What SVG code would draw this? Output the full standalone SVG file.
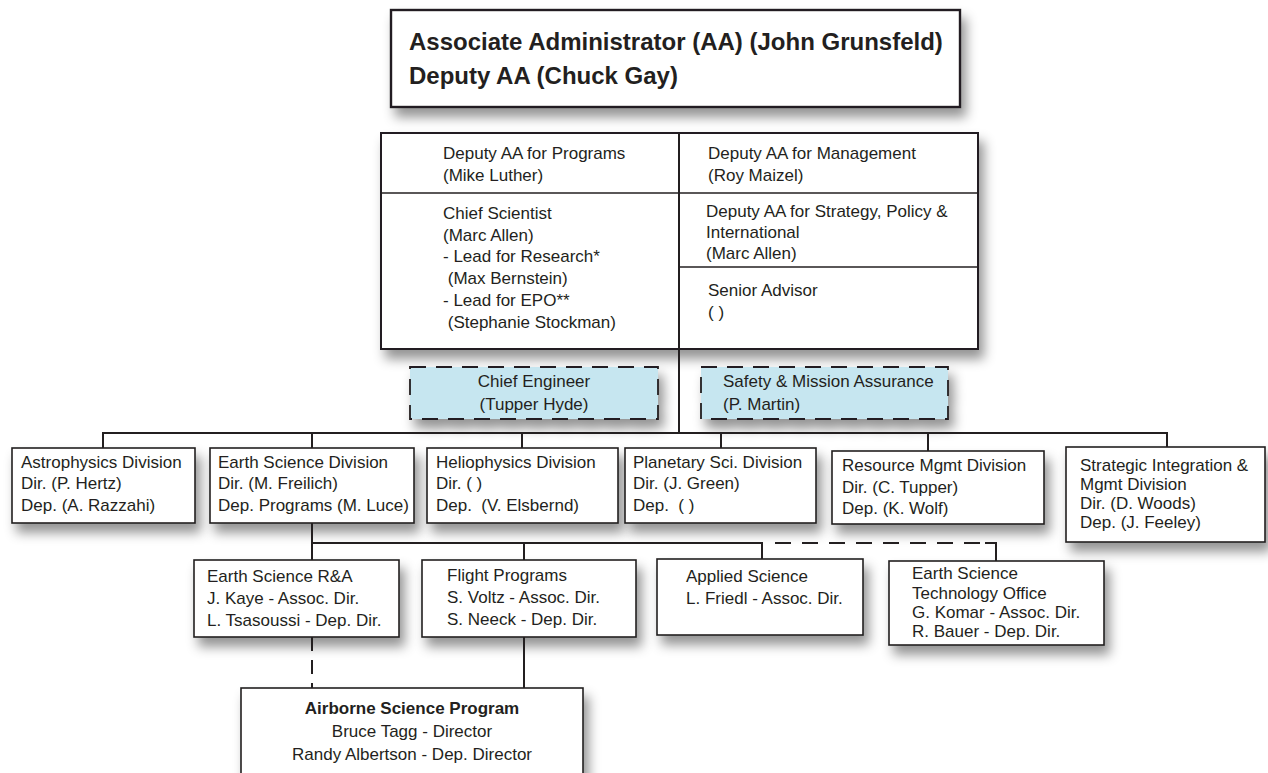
<svg xmlns="http://www.w3.org/2000/svg" width="1268" height="773" viewBox="0 0 1268 773">
<defs>
<filter id="sh" x="-15%" y="-20%" width="140%" height="170%">
<feDropShadow dx="5" dy="9" stdDeviation="6" flood-color="#000" flood-opacity="0.42"/>
</filter>
</defs>
<style>
.box{fill:#fff;stroke:#231f20;stroke-width:1.6}
.blue{fill:#c6e6f0;stroke:#231f20;stroke-width:1.8;stroke-dasharray:16 10}
.ln{fill:none;stroke:#231f20;stroke-width:2}
.dash{fill:none;stroke:#231f20;stroke-width:2;stroke-dasharray:16 11}
.t{font-family:"Liberation Sans",Arial,sans-serif;font-size:17px;fill:#231f20;white-space:pre}
.title{font-family:"Liberation Sans",Arial,sans-serif;font-size:24px;font-weight:bold;fill:#231f20}
.b{font-weight:bold}
.c{text-anchor:middle}
</style>
<rect width="1268" height="773" fill="#fff"/>

<g id="aa">
<rect class="box" x="391" y="10" width="569" height="97" style="stroke-width:2.4" filter="url(#sh)"/>
<text class="title" x="409" y="50">Associate Administrator (AA) (John Grunsfeld)</text>
<text class="title" x="409" y="84">Deputy AA (Chuck Gay)</text>
</g>

<g id="staff">
<rect class="box" x="381" y="133" width="597" height="216" style="stroke-width:2" filter="url(#sh)"/>
<line class="ln" x1="679" y1="133" x2="679" y2="349"/>
<line class="ln" x1="381" y1="193" x2="978" y2="193" style="stroke-width:1.6"/>
<line class="ln" x1="679" y1="267" x2="978" y2="267" style="stroke-width:1.6"/>
<text class="t" x="443" y="159">Deputy AA for Programs</text>
<text class="t" x="443" y="181">(Mike Luther)</text>
<text class="t" x="443" y="219">Chief Scientist</text>
<text class="t" x="443" y="241">(Marc Allen)</text>
<text class="t" x="443" y="262">- Lead for Research*</text>
<text class="t" x="443" y="284"> (Max Bernstein)</text>
<text class="t" x="443" y="306">- Lead for EPO**</text>
<text class="t" x="443" y="328"> (Stephanie Stockman)</text>
<text class="t" x="708" y="159">Deputy AA for Management</text>
<text class="t" x="708" y="181">(Roy Maizel)</text>
<text class="t" x="706" y="217">Deputy AA for Strategy, Policy &amp;</text>
<text class="t" x="706" y="238">International</text>
<text class="t" x="706" y="259">(Marc Allen)</text>
<text class="t" x="708" y="296">Senior Advisor</text>
<text class="t" x="708" y="318">( )</text>
</g>

<g id="chief-engineer">
<rect class="blue" x="410" y="367" width="248" height="52" filter="url(#sh)"/>
<text class="t c" x="534" y="387">Chief Engineer</text>
<text class="t c" x="534" y="410">(Tupper Hyde)</text>
</g>

<g id="safety">
<rect class="blue" x="701" y="367" width="247" height="52" filter="url(#sh)"/>
<text class="t" x="723" y="387">Safety &amp; Mission Assurance</text>
<text class="t" x="723" y="410">(P. Martin)</text>
</g>

<g id="astrophysics">
<rect class="box" x="12" y="448" width="183" height="75" filter="url(#sh)"/>
<text class="t" x="21" y="468">Astrophysics Division</text>
<text class="t" x="21" y="489">Dir. (P. Hertz)</text>
<text class="t" x="21" y="511">Dep. (A. Razzahi)</text>
</g>

<g id="earth-science">
<rect class="box" x="210" y="448" width="204" height="75" filter="url(#sh)"/>
<text class="t" x="218" y="468">Earth Science Division</text>
<text class="t" x="218" y="489">Dir. (M. Freilich)</text>
<text class="t" x="218" y="511">Dep. Programs (M. Luce)</text>
</g>

<g id="heliophysics">
<rect class="box" x="427" y="448" width="191" height="75" filter="url(#sh)"/>
<text class="t" x="436" y="468">Heliophysics Division</text>
<text class="t" x="436" y="489">Dir. ( )</text>
<text class="t" x="436" y="511">Dep.  (V. Elsbernd)</text>
</g>

<g id="planetary">
<rect class="box" x="625" y="448" width="191" height="75" filter="url(#sh)"/>
<text class="t" x="633" y="468">Planetary Sci. Division</text>
<text class="t" x="633" y="489">Dir. (J. Green)</text>
<text class="t" x="633" y="511">Dep.  ( )</text>
</g>

<g id="resource">
<rect class="box" x="832" y="451" width="212" height="73" filter="url(#sh)"/>
<text class="t" x="842" y="471">Resource Mgmt Division</text>
<text class="t" x="842" y="493">Dir. (C. Tupper)</text>
<text class="t" x="842" y="514">Dep. (K. Wolf)</text>
</g>

<g id="strategic">
<rect class="box" x="1066" y="447" width="199" height="95" filter="url(#sh)"/>
<text class="t" x="1080" y="471">Strategic Integration &amp;</text>
<text class="t" x="1080" y="490">Mgmt Division</text>
<text class="t" x="1080" y="509">Dir. (D. Woods)</text>
<text class="t" x="1080" y="528">Dep. (J. Feeley)</text>
</g>

<g id="es-ra">
<rect class="box" x="194" y="560" width="205" height="77" filter="url(#sh)"/>
<text class="t" x="207" y="582">Earth Science R&amp;A</text>
<text class="t" x="207" y="604">J. Kaye - Assoc. Dir.</text>
<text class="t" x="207" y="626">L. Tsasoussi - Dep. Dir.</text>
</g>

<g id="flight">
<rect class="box" x="422" y="560" width="214" height="77" filter="url(#sh)"/>
<text class="t" x="447" y="581">Flight Programs</text>
<text class="t" x="447" y="603">S. Voltz - Assoc. Dir.</text>
<text class="t" x="447" y="625">S. Neeck - Dep. Dir.</text>
</g>

<g id="applied">
<rect class="box" x="657" y="559" width="206" height="76" filter="url(#sh)"/>
<text class="t" x="686" y="582">Applied Science</text>
<text class="t" x="686" y="604">L. Friedl - Assoc. Dir.</text>
</g>

<g id="esto">
<rect class="box" x="889" y="561" width="215" height="84" filter="url(#sh)"/>
<text class="t" x="912" y="579">Earth Science</text>
<text class="t" x="912" y="599">Technology Office</text>
<text class="t" x="912" y="618">G. Komar - Assoc. Dir.</text>
<text class="t" x="912" y="637">R. Bauer - Dep. Dir.</text>
</g>

<g id="airborne">
<rect class="box" x="241" y="688" width="342" height="100" filter="url(#sh)"/>
<text class="t c b" x="412" y="714">Airborne Science Program</text>
<text class="t c" x="412" y="737">Bruce Tagg - Director</text>
<text class="t c" x="412" y="760">Randy Albertson - Dep. Director</text>
</g>

<g id="connectors">
<line class="ln" x1="679" y1="349" x2="679" y2="433"/>
<polyline class="ln" points="103,448 103,433 1167,433 1167,447"/>
<line class="ln" x1="312" y1="433" x2="312" y2="448"/>
<line class="ln" x1="522" y1="433" x2="522" y2="448"/>
<line class="ln" x1="721" y1="433" x2="721" y2="448"/>
<line class="ln" x1="928" y1="433" x2="928" y2="451"/>
<line class="ln" x1="312" y1="523" x2="312" y2="560"/>
<line class="ln" x1="312" y1="543" x2="763" y2="543"/>
<line class="ln" x1="524" y1="543" x2="524" y2="560"/>
<line class="ln" x1="762" y1="543" x2="762" y2="559"/>
<line class="dash" x1="775" y1="543" x2="990" y2="543"/>
<polyline class="ln" points="985,543 996,543 996,561"/>
<line class="dash" x1="312" y1="637" x2="312" y2="688" style="stroke-dasharray:14 9"/>
<line class="ln" x1="524" y1="637" x2="524" y2="688"/>
</g>
</svg>
